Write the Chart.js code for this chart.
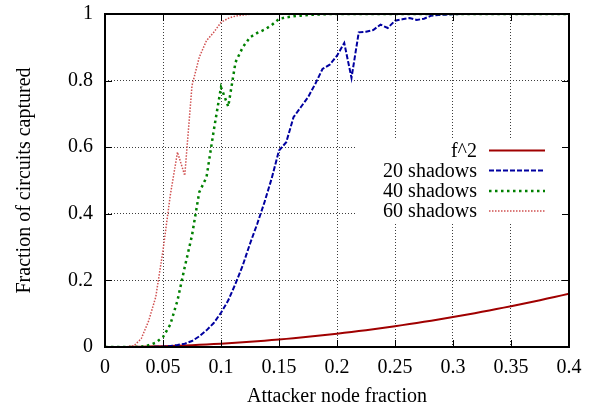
<!DOCTYPE html>
<html>
<head>
<meta charset="utf-8">
<script src="https://cdn.jsdelivr.net/npm/chart.js@4/dist/chart.umd.min.js"></script>
<style>
html,body{margin:0;padding:0;background:#fff;}
canvas{display:block;}
</style>
</head>
<body>
<canvas id="c" width="597" height="408"></canvas>
<script>
// ---- data ----
const xValues = [0, 0.00625, 0.0125, 0.01875, 0.025, 0.03125, 0.0375, 0.04375, 0.05, 0.05625,
  0.0625, 0.06875, 0.075, 0.08125, 0.0875, 0.09375, 0.1, 0.10625, 0.1125, 0.11875,
  0.125, 0.13125, 0.1375, 0.14375, 0.15, 0.15625, 0.1625, 0.16875, 0.175, 0.18125,
  0.1875, 0.19375, 0.2, 0.20625, 0.2125, 0.21875, 0.225, 0.23125, 0.2375, 0.24375,
  0.25, 0.25625, 0.2625, 0.26875, 0.275, 0.28125, 0.2875, 0.29375, 0.3, 0.30625,
  0.3125, 0.31875, 0.325, 0.33125, 0.3375, 0.34375, 0.35, 0.35625, 0.3625, 0.36875,
  0.375, 0.38125, 0.3875, 0.39375, 0.4];

const fSquared = [0, 0.00004, 0.00016, 0.00035, 0.000625, 0.00098, 0.0014, 0.0019, 0.0025, 0.0032,
  0.0039, 0.0047, 0.0056, 0.0066, 0.0077, 0.0088, 0.01, 0.0113, 0.0127, 0.0141,
  0.0156, 0.0172, 0.0189, 0.0207, 0.0225, 0.0244, 0.0264, 0.0285, 0.0306, 0.0329,
  0.0352, 0.0375, 0.04, 0.0425, 0.0452, 0.0479, 0.0506, 0.0535, 0.0564, 0.0594,
  0.0625, 0.0657, 0.0689, 0.0722, 0.0756, 0.0791, 0.0827, 0.0863, 0.09, 0.0938,
  0.0977, 0.1016, 0.1056, 0.1097, 0.1139, 0.1182, 0.1225, 0.1269, 0.1314, 0.136,
  0.1406, 0.1454, 0.1502, 0.155, 0.16];

const shadows20 = [0, 0, 0, 0, 0, 0, 0, 0.0005, 0.001, 0.003,
  0.006, 0.01, 0.018, 0.032, 0.05, 0.072, 0.103, 0.14, 0.19, 0.245,
  0.31, 0.37, 0.435, 0.507, 0.59, 0.615, 0.69, 0.72, 0.75, 0.79,
  0.835, 0.848, 0.875, 0.913, 0.808, 0.945, 0.947, 0.952, 0.968, 0.958,
  0.98, 0.984, 0.988, 0.982, 0.986, 0.995, 0.997, 0.998, 0.999, 1,
  1, 1, 1, 1, 1, 1, 1, 1, 1, 1,
  1, 1, 1, 1, 1];

const shadows40 = [0, 0, 0, 0, 0, 0.001, 0.005, 0.013, 0.03, 0.067,
  0.14, 0.24, 0.335, 0.465, 0.51, 0.65, 0.78, 0.722, 0.855, 0.9,
  0.93, 0.943, 0.953, 0.967, 0.985, 0.99, 0.993, 0.995, 0.997, 0.998,
  0.999, 1, 1, 1, 1, 1, 1, 1, 1, 1,
  1, 1, 1, 1, 1, 1, 1, 1, 1, 1,
  1, 1, 1, 1, 1, 1, 1, 1, 1, 1,
  1, 1, 1, 1, 1];

const shadows60 = [0, 0, 0, 0.001, 0.004, 0.025, 0.077, 0.15, 0.29, 0.455,
  0.585, 0.515, 0.785, 0.87, 0.92, 0.945, 0.975, 0.987, 0.994, 0.997,
  0.999, 1, 1, 1, 1, 1, 1, 1, 1, 1,
  1, 1, 1, 1, 1, 1, 1, 1, 1, 1,
  1, 1, 1, 1, 1, 1, 1, 1, 1, 1,
  1, 1, 1, 1, 1, 1, 1, 1, 1, 1,
  1, 1, 1, 1, 1];

const seriesLabels = ['f^2', '20 shadows', '40 shadows', '60 shadows'];
const xTickValues = [0, 0.05, 0.1, 0.15, 0.2, 0.25, 0.3, 0.35, 0.4];
const xTickLabels = ['0', '0.05', '0.1', '0.15', '0.2', '0.25', '0.3', '0.35', '0.4'];
const yTickValues = [0, 0.2, 0.4, 0.6, 0.8, 1];
const yTickLabels = ['0', '0.2', '0.4', '0.6', '0.8', '1'];
const xTitle = 'Attacker node fraction';
const yTitle = 'Fraction of circuits captured';

// ---- build chart ----
const pts = ys => xValues.map((x, i) => ({x: x, y: ys[i]}));
const FONT = '"Liberation Serif", "DejaVu Serif", serif';
Chart.defaults.font.family = FONT;
Chart.defaults.font.size = 20;
Chart.defaults.color = '#000';

const styles = [
  {color: '#a00000', width: 2, dash: []},
  {color: '#0000a0', width: 2, dash: [5, 2]},
  {color: '#008000', width: 2.5, dash: [2.5, 3.5]},
  {color: '#d05050', width: 1.5, dash: [1.5, 1.5]}
];
const seriesData = [fSquared, shadows20, shadows40, shadows60];

const datasets = seriesData.map((d, i) => ({
  label: seriesLabels[i],
  data: pts(d),
  borderColor: styles[i].color,
  backgroundColor: styles[i].color,
  borderWidth: styles[i].width,
  borderDash: styles[i].dash,
  pointRadius: 0,
  tension: 0,
  fill: false,
  order: 4 - i
}));

const gridColor = ctx => (ctx.index === 0 || ctx.index === ctx.scale.ticks.length - 1) ? 'rgba(0,0,0,0)' : 'rgba(40,40,40,0.9)';

const framePlugin = {
  id: 'frame',
  beforeDatasetsDraw(chart) {
    const ctx = chart.ctx;
    ctx.save();
    ctx.fillStyle = '#fff';
    ctx.fillRect(357, 140, chart.chartArea.right - 357, 82);
    ctx.restore();
  },
  afterDraw(chart) {
    const ctx = chart.ctx;
    const a = chart.chartArea;
    const xs = chart.scales.x, ys = chart.scales.y;
    ctx.save();
    ctx.setLineDash([]);
    ctx.globalAlpha = 1;
    ctx.fillStyle = '#000000';
    const tl = 7;
    xTickValues.forEach(v => {
      const px = Math.round(xs.getPixelForValue(v));
      ctx.fillRect(px, a.bottom - tl, 1, tl);
      ctx.fillRect(px, a.top, 1, tl);
    });
    yTickValues.forEach(v => {
      const py = Math.round(ys.getPixelForValue(v));
      ctx.fillRect(a.left, py, tl, 1);
      ctx.fillRect(a.right - tl, py, tl, 1);
    });
    const L = Math.round(xs.getPixelForValue(0)), R = Math.round(xs.getPixelForValue(0.4));
    const T = Math.round(ys.getPixelForValue(1)), B = Math.round(ys.getPixelForValue(0));
    ctx.fillStyle = '#000000';
    ctx.fillRect(L - 1, T - 1, R - L + 2, 2);
    ctx.fillRect(L - 1, B - 1, R - L + 2, 2);
    ctx.fillRect(L - 1, T - 1, 2, B - T + 2);
    ctx.fillRect(R - 1, T - 1, 2, B - T + 2);

    // legend
    const rowsY = [150.5, 170.5, 191, 211];
    ctx.font = '20px ' + FONT;
    ctx.textAlign = 'right';
    ctx.textBaseline = 'middle';
    chart.data.datasets.forEach((ds, i) => {
      ctx.fillStyle = '#000';
      ctx.fillText(ds.label, 477, rowsY[i] + 1);
      ctx.beginPath();
      ctx.strokeStyle = ds.borderColor;
      ctx.lineWidth = ds.borderWidth;
      ctx.setLineDash(ds.borderDash);
      ctx.moveTo(489, rowsY[i]);
      ctx.lineTo(545, rowsY[i]);
      ctx.stroke();
    });
    ctx.restore();
  }
};

new Chart(document.getElementById('c'), {
  type: 'line',
  data: {datasets: datasets},
  options: {
    responsive: false,
    animation: false,
    devicePixelRatio: 1,
    layout: {padding: {left: 0, top: 14, right: 28, bottom: 0}},
    plugins: {legend: {display: false}, tooltip: {enabled: false}},
    scales: {
      x: {
        type: 'linear',
        min: 0, max: 0.4,
        afterBuildTicks: s => { s.ticks = xTickValues.map(v => ({value: v})); },
        afterFit: s => { s.height = 61; s.paddingLeft = 0; s.paddingRight = 0; },
        ticks: {
          callback: (v, i) => xTickLabels[i],
          padding: 9,
          maxRotation: 0,
          autoSkip: false,
          font: {size: 20}
        },
        grid: {drawTicks: false, color: gridColor, lineWidth: 1},
        border: {display: false, dash: [1, 2]},
        title: {display: true, text: xTitle, font: {size: 20, lineHeight: 1}, padding: {top: 0, bottom: 1}}
      },
      y: {
        type: 'linear',
        min: 0, max: 1,
        afterBuildTicks: s => { s.ticks = yTickValues.map(v => ({value: v})); },
        afterFit: s => { s.width = 105; s.paddingTop = 0; s.paddingBottom = 0; },
        ticks: {
          callback: (v, i) => yTickLabels[i],
          padding: 12,
          autoSkip: false,
          font: {size: 20}
        },
        grid: {drawTicks: false, color: gridColor, lineWidth: 1},
        border: {display: false, dash: [1, 2]},
        title: {display: true, text: yTitle, font: {size: 20}, padding: {top: 13, bottom: 0}}
      }
    }
  },
  plugins: [framePlugin]
});
</script>
</body>
</html>
